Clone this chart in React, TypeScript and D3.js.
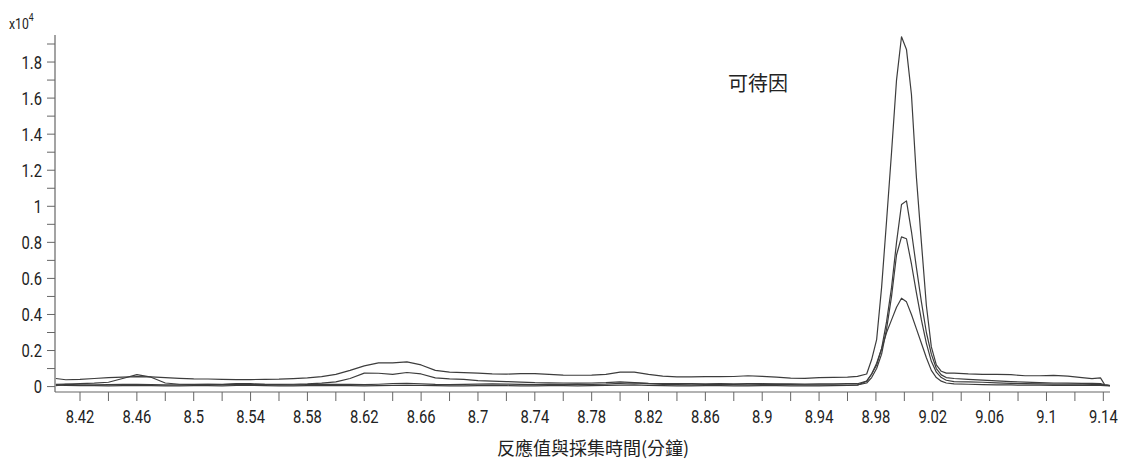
import React from 'react';
import * as d3 from 'd3';

// retention time (min) – denser sampling around the peak
const times = [
  8.403, 8.41, 8.42, 8.43, 8.44, 8.45, 8.46, 8.47, 8.48, 8.49,
  8.50, 8.51, 8.52, 8.53, 8.54, 8.55, 8.56, 8.57, 8.58, 8.59,
  8.60, 8.61, 8.62, 8.63, 8.64, 8.65, 8.66, 8.67, 8.68, 8.69,
  8.70, 8.71, 8.72, 8.73, 8.74, 8.75, 8.76, 8.77, 8.78, 8.79,
  8.80, 8.81, 8.82, 8.83, 8.84, 8.85, 8.86, 8.87, 8.88, 8.89,
  8.90, 8.91, 8.92, 8.93, 8.94, 8.95, 8.96,
  8.967, 8.9735, 8.977, 8.9805, 8.984, 8.9875, 8.991, 8.9945, 8.998,
  9.0015, 9.005, 9.0085, 9.012, 9.0155, 9.019, 9.0225, 9.026, 9.0295,
  9.035, 9.045, 9.055, 9.065, 9.075, 9.085, 9.095,
  9.105, 9.115, 9.125, 9.132, 9.138, 9.141, 9.1447,
];

// response (x10^4)
const trace1 = [
  0.045, 0.038, 0.04, 0.045, 0.05, 0.052, 0.055, 0.054, 0.05, 0.046,
  0.043, 0.042, 0.04, 0.039, 0.039, 0.04, 0.041, 0.044, 0.048, 0.055,
  0.068, 0.09, 0.115, 0.132, 0.132, 0.137, 0.12, 0.09, 0.08, 0.078,
  0.075, 0.07, 0.069, 0.072, 0.072, 0.068, 0.064, 0.063, 0.064, 0.068,
  0.08, 0.08, 0.068, 0.058, 0.054, 0.054, 0.055, 0.055, 0.056, 0.06,
  0.057, 0.052, 0.047, 0.046, 0.05, 0.051, 0.052,
  0.057, 0.07, 0.15, 0.26, 0.55, 0.92, 1.3, 1.7, 1.94,
  1.87, 1.62, 1.16, 0.8, 0.45, 0.22, 0.12, 0.085, 0.075,
  0.075, 0.07, 0.068, 0.068, 0.066, 0.06, 0.06,
  0.062, 0.058, 0.05, 0.044, 0.048, 0.01, 0.006,
];

const trace2 = [
  0.012, 0.014, 0.016, 0.019, 0.024, 0.045, 0.066, 0.052, 0.02, 0.013,
  0.012, 0.012, 0.011, 0.012, 0.013, 0.012, 0.012, 0.013, 0.015, 0.019,
  0.026, 0.045, 0.075, 0.074, 0.068, 0.078, 0.07, 0.048, 0.043, 0.04,
  0.033, 0.03, 0.028, 0.025, 0.022, 0.021, 0.02, 0.019, 0.02, 0.022,
  0.026, 0.022, 0.018, 0.017, 0.016, 0.016, 0.015, 0.016, 0.015, 0.016,
  0.016, 0.015, 0.015, 0.014, 0.015, 0.015, 0.016,
  0.016, 0.03, 0.07, 0.12, 0.21, 0.36, 0.55, 0.8, 1.01,
  1.03, 0.86, 0.66, 0.47, 0.3, 0.18, 0.1, 0.065, 0.05,
  0.045, 0.04, 0.036, 0.032, 0.028, 0.025, 0.022,
  0.02, 0.019, 0.018, 0.018, 0.016, 0.01, 0.006,
];

const trace3 = [
  0.005, 0.012, 0.01, 0.01, 0.011, 0.012, 0.012, 0.011, 0.01, 0.01,
  0.011, 0.012, 0.013, 0.017, 0.016, 0.012, 0.01, 0.01, 0.011, 0.012,
  0.013, 0.012, 0.011, 0.013, 0.016, 0.018, 0.015, 0.012, 0.011, 0.012,
  0.014, 0.015, 0.014, 0.012, 0.011, 0.012, 0.013, 0.012, 0.012, 0.014,
  0.018, 0.02, 0.016, 0.012, 0.011, 0.01, 0.011, 0.012, 0.011, 0.01,
  0.011, 0.012, 0.011, 0.01, 0.01, 0.009, 0.008,
  0.01, 0.02, 0.05, 0.1, 0.18, 0.32, 0.5, 0.73, 0.83,
  0.82, 0.68, 0.52, 0.37, 0.24, 0.14, 0.08, 0.05, 0.035,
  0.028, 0.026, 0.024, 0.021, 0.018, 0.016, 0.015,
  0.014, 0.013, 0.013, 0.012, 0.012, 0.008, 0.005,
];

const trace4 = [
  0.008, 0.006, 0.005, 0.005, 0.004, 0.005, 0.006, 0.005, 0.004, 0.004,
  0.005, 0.005, 0.004, 0.006, 0.007, 0.005, 0.004, 0.004, 0.005, 0.005,
  0.006, 0.005, 0.004, 0.005, 0.006, 0.007, 0.006, 0.005, 0.004, 0.004,
  0.005, 0.006, 0.005, 0.004, 0.004, 0.005, 0.005, 0.004, 0.005, 0.006,
  0.008, 0.009, 0.007, 0.005, 0.004, 0.004, 0.005, 0.005, 0.004, 0.004,
  0.005, 0.005, 0.004, 0.004, 0.004, 0.005, 0.006,
  0.008, 0.03, 0.07, 0.13, 0.21, 0.3, 0.37, 0.44, 0.49,
  0.47, 0.4, 0.32, 0.24, 0.16, 0.09, 0.05, 0.03, 0.02,
  0.015, 0.013, 0.011, 0.01, 0.009, 0.008, 0.008,
  0.007, 0.007, 0.007, 0.006, 0.006, 0.005, 0.004,
];

const xTickLabels = [8.42, 8.46, 8.5, 8.54, 8.58, 8.62, 8.66, 8.7, 8.74, 8.78, 8.82, 8.86, 8.9, 8.94, 8.98, 9.02, 9.06, 9.1, 9.14];
const yTickLabels = [0, 0.2, 0.4, 0.6, 0.8, 1, 1.2, 1.4, 1.6, 1.8];

const compoundName = '可待因';
const xTitle = '反應值與採集時間(分鐘)';

const W = 1121;
const H = 461;
const latin = 'Roboto, "Liberation Sans", sans-serif';
const cjk = '"Noto Sans CJK TC", "Noto Sans CJK SC", sans-serif';
const squeeze = 0.82; // narrow the digits like the condensed face of the original

export default function App() {
  const x = d3.scaleLinear().domain([8.4024, 9.1447]).range([55, 1110]);
  const y = d3.scaleLinear().domain([-0.03, 1.95]).range([392, 35]);

  const line = d3.line<number>()
    .x((_, i) => x(times[i]))
    .y(d => y(d));

  const xMinor = d3.range(0, 37).map(i => +(8.42 + i * 0.02).toFixed(2));
  const yMinor = d3.range(0, 20).map(i => +(i * 0.1).toFixed(1));

  const axisColor = '#666';
  const textColor = '#222';

  return (
    <svg width={W} height={H} style={{position: 'absolute', left: 0, top: 0, background: '#fff'}}>
      {/* traces */}
      <g fill="none" stroke="#3d3d3d" strokeWidth={1.2} strokeLinejoin="round">
        {[trace4, trace3, trace2, trace1].map((t, k) => (
          <path key={k} d={line(t) || ''} />
        ))}
      </g>

      {/* y axis */}
      <line x1={55} x2={55} y1={35} y2={392} stroke={axisColor} strokeWidth={1.2} />
      {yMinor.map(v => (
        <line key={v} x1={47} x2={55} y1={y(v)} y2={y(v)} stroke={axisColor} strokeWidth={1} />
      ))}
      {yTickLabels.map(v => (
        <text key={v} transform={`translate(42,${y(v)}) scale(${squeeze},1)`} dy="0.36em" textAnchor="end"
              fontFamily={latin} fontSize={18} fill={textColor}>{String(v)}</text>
      ))}
      <text transform={`translate(9,29) scale(${squeeze + 0.05},1)`} fontFamily={latin} fontSize={14} fill={textColor}>
        x10<tspan dy={-8} fontSize={10}>4</tspan>
      </text>

      {/* x axis */}
      <line x1={55} x2={1110} y1={392} y2={392} stroke={axisColor} strokeWidth={1.2} />
      {xMinor.map(v => (
        <line key={v} x1={x(v)} x2={x(v)} y1={392} y2={401} stroke={axisColor} strokeWidth={1} />
      ))}
      {xTickLabels.map(v => (
        <text key={v} transform={`translate(${x(v)},423) scale(${squeeze},1)`} textAnchor="middle"
              fontFamily={latin} fontSize={18} fill={textColor}>{String(v)}</text>
      ))}

      <text x={593} y={455} textAnchor="middle" fontFamily={cjk} fontSize={18} fill={textColor}>{xTitle}</text>
      <text x={758} y={91} textAnchor="middle" fontFamily={cjk} fontSize={20} fill={textColor}>{compoundName}</text>
    </svg>
  );
}
